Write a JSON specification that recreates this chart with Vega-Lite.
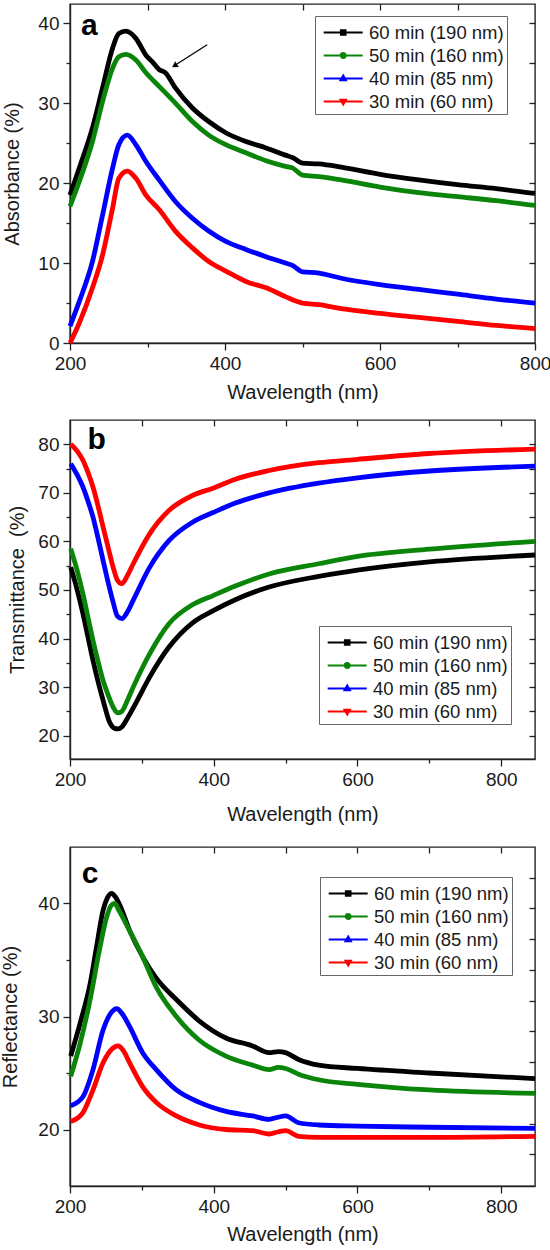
{
"$schema": "https://vega.github.io/schema/vega-lite/v6.json",
"padding": {"top": 2, "left": 0, "right": 0, "bottom": 0},
"spacing": 15,
"config": {
  "font": "Liberation Sans",
  "view": {"stroke": "#222", "strokeWidth": 1.4},
  "axis": {"grid": false, "labelFlush": false, "domainColor": "#222", "domainWidth": 1.4, "tickColor": "#222", "tickWidth": 1.3, "labelColor": "#1a1a1a", "titleColor": "#1a1a1a", "labelFont": "Liberation Sans", "titleFont": "Liberation Sans", "labelFontSize": 19, "titleFontSize": 20, "titleFontWeight": "normal", "labelPadding": 4},
  "legend": {"labelFont": "Liberation Sans", "labelFontSize": 18.5, "labelColor": "#1a1a1a", "title": null, "strokeColor": "#666", "fillColor": "white", "padding": 3, "columnPadding": 0, "symbolSize": 576, "symbolStrokeWidth": 2.2, "symbolOpacity": 1, "rowPadding": 0, "labelOffset": 24}
},
"datasets": {
  "a": [
    {"s":"60 min (190 nm)","w":200,"v":18.5},{"s":"60 min (190 nm)","w":212,"v":21.9},{"s":"60 min (190 nm)","w":229,"v":26.9},{"s":"60 min (190 nm)","w":242,"v":31.9},{"s":"60 min (190 nm)","w":255,"v":36.9},{"s":"60 min (190 nm)","w":263,"v":38.7},{"s":"60 min (190 nm)","w":272,"v":39.0},{"s":"60 min (190 nm)","w":285,"v":38.1},{"s":"60 min (190 nm)","w":298,"v":36.0},{"s":"60 min (190 nm)","w":306,"v":35.2},{"s":"60 min (190 nm)","w":315,"v":34.2},{"s":"60 min (190 nm)","w":323,"v":33.8},{"s":"60 min (190 nm)","w":336,"v":31.9},{"s":"60 min (190 nm)","w":358,"v":29.4},{"s":"60 min (190 nm)","w":379,"v":27.7},{"s":"60 min (190 nm)","w":401,"v":26.3},{"s":"60 min (190 nm)","w":427,"v":25.2},{"s":"60 min (190 nm)","w":453,"v":24.4},{"s":"60 min (190 nm)","w":478,"v":23.5},{"s":"60 min (190 nm)","w":487,"v":23.2},{"s":"60 min (190 nm)","w":500,"v":22.5},{"s":"60 min (190 nm)","w":521,"v":22.4},{"s":"60 min (190 nm)","w":550,"v":22.0},{"s":"60 min (190 nm)","w":600,"v":21.1},{"s":"60 min (190 nm)","w":650,"v":20.4},{"s":"60 min (190 nm)","w":700,"v":19.8},{"s":"60 min (190 nm)","w":750,"v":19.3},{"s":"60 min (190 nm)","w":800,"v":18.7},
    {"s":"50 min (160 nm)","w":200,"v":17.1},{"s":"50 min (160 nm)","w":212,"v":20.2},{"s":"50 min (160 nm)","w":229,"v":25.2},{"s":"50 min (160 nm)","w":242,"v":30.2},{"s":"50 min (160 nm)","w":255,"v":34.4},{"s":"50 min (160 nm)","w":263,"v":35.8},{"s":"50 min (160 nm)","w":272,"v":36.1},{"s":"50 min (160 nm)","w":285,"v":35.4},{"s":"50 min (160 nm)","w":298,"v":33.8},{"s":"50 min (160 nm)","w":315,"v":32.1},{"s":"50 min (160 nm)","w":336,"v":30.0},{"s":"50 min (160 nm)","w":358,"v":27.7},{"s":"50 min (160 nm)","w":379,"v":26.0},{"s":"50 min (160 nm)","w":401,"v":24.8},{"s":"50 min (160 nm)","w":427,"v":23.8},{"s":"50 min (160 nm)","w":453,"v":22.8},{"s":"50 min (160 nm)","w":478,"v":22.1},{"s":"50 min (160 nm)","w":487,"v":21.9},{"s":"50 min (160 nm)","w":500,"v":21.0},{"s":"50 min (160 nm)","w":521,"v":20.8},{"s":"50 min (160 nm)","w":550,"v":20.4},{"s":"50 min (160 nm)","w":600,"v":19.5},{"s":"50 min (160 nm)","w":650,"v":18.8},{"s":"50 min (160 nm)","w":700,"v":18.3},{"s":"50 min (160 nm)","w":750,"v":17.8},{"s":"50 min (160 nm)","w":800,"v":17.2},
    {"s":"40 min (85 nm)","w":200,"v":2.1},{"s":"40 min (85 nm)","w":212,"v":5.2},{"s":"40 min (85 nm)","w":229,"v":10.2},{"s":"40 min (85 nm)","w":242,"v":16.0},{"s":"40 min (85 nm)","w":255,"v":21.9},{"s":"40 min (85 nm)","w":263,"v":24.8},{"s":"40 min (85 nm)","w":274,"v":26.0},{"s":"40 min (85 nm)","w":285,"v":24.8},{"s":"40 min (85 nm)","w":298,"v":22.7},{"s":"40 min (85 nm)","w":315,"v":20.4},{"s":"40 min (85 nm)","w":336,"v":17.7},{"s":"40 min (85 nm)","w":358,"v":15.6},{"s":"40 min (85 nm)","w":379,"v":14.0},{"s":"40 min (85 nm)","w":401,"v":12.7},{"s":"40 min (85 nm)","w":427,"v":11.7},{"s":"40 min (85 nm)","w":453,"v":10.8},{"s":"40 min (85 nm)","w":478,"v":10.0},{"s":"40 min (85 nm)","w":487,"v":9.7},{"s":"40 min (85 nm)","w":500,"v":8.9},{"s":"40 min (85 nm)","w":521,"v":8.75},{"s":"40 min (85 nm)","w":550,"v":8.1},{"s":"40 min (85 nm)","w":600,"v":7.3},{"s":"40 min (85 nm)","w":650,"v":6.7},{"s":"40 min (85 nm)","w":700,"v":6.1},{"s":"40 min (85 nm)","w":750,"v":5.5},{"s":"40 min (85 nm)","w":800,"v":5.0},
    {"s":"30 min (60 nm)","w":200,"v":0.0},{"s":"30 min (60 nm)","w":212,"v":2.5},{"s":"30 min (60 nm)","w":229,"v":6.9},{"s":"30 min (60 nm)","w":242,"v":11.0},{"s":"30 min (60 nm)","w":255,"v":16.9},{"s":"30 min (60 nm)","w":263,"v":20.6},{"s":"30 min (60 nm)","w":274,"v":21.5},{"s":"30 min (60 nm)","w":285,"v":20.6},{"s":"30 min (60 nm)","w":298,"v":18.5},{"s":"30 min (60 nm)","w":315,"v":16.7},{"s":"30 min (60 nm)","w":336,"v":14.0},{"s":"30 min (60 nm)","w":358,"v":11.9},{"s":"30 min (60 nm)","w":379,"v":10.2},{"s":"30 min (60 nm)","w":401,"v":9.0},{"s":"30 min (60 nm)","w":427,"v":7.7},{"s":"30 min (60 nm)","w":453,"v":6.9},{"s":"30 min (60 nm)","w":478,"v":5.8},{"s":"30 min (60 nm)","w":500,"v":5.0},{"s":"30 min (60 nm)","w":521,"v":4.8},{"s":"30 min (60 nm)","w":550,"v":4.3},{"s":"30 min (60 nm)","w":600,"v":3.7},{"s":"30 min (60 nm)","w":650,"v":3.2},{"s":"30 min (60 nm)","w":700,"v":2.7},{"s":"30 min (60 nm)","w":750,"v":2.2},{"s":"30 min (60 nm)","w":800,"v":1.8}
  ],
  "b": [
    {"s":"60 min (190 nm)","w":201,"v":54.7},{"s":"60 min (190 nm)","w":210,"v":50.0},{"s":"60 min (190 nm)","w":218,"v":45.1},{"s":"60 min (190 nm)","w":225,"v":40.3},{"s":"60 min (190 nm)","w":232,"v":35.5},{"s":"60 min (190 nm)","w":239,"v":31.2},{"s":"60 min (190 nm)","w":246,"v":27.3},{"s":"60 min (190 nm)","w":255,"v":22.8},{"s":"60 min (190 nm)","w":262,"v":21.5},{"s":"60 min (190 nm)","w":267,"v":21.4},{"s":"60 min (190 nm)","w":272,"v":21.8},{"s":"60 min (190 nm)","w":280,"v":23.6},{"s":"60 min (190 nm)","w":292,"v":26.8},{"s":"60 min (190 nm)","w":311,"v":32.1},{"s":"60 min (190 nm)","w":338,"v":38.3},{"s":"60 min (190 nm)","w":371,"v":43.3},{"s":"60 min (190 nm)","w":400,"v":45.8},{"s":"60 min (190 nm)","w":430,"v":48.0},{"s":"60 min (190 nm)","w":477,"v":50.6},{"s":"60 min (190 nm)","w":546,"v":52.8},{"s":"60 min (190 nm)","w":600,"v":54.1},{"s":"60 min (190 nm)","w":700,"v":55.8},{"s":"60 min (190 nm)","w":847,"v":57.2},
    {"s":"50 min (160 nm)","w":201,"v":58.5},{"s":"50 min (160 nm)","w":210,"v":54.0},{"s":"50 min (160 nm)","w":218,"v":49.2},{"s":"50 min (160 nm)","w":225,"v":44.4},{"s":"50 min (160 nm)","w":232,"v":39.6},{"s":"50 min (160 nm)","w":239,"v":35.3},{"s":"50 min (160 nm)","w":246,"v":31.4},{"s":"50 min (160 nm)","w":253,"v":28.4},{"s":"50 min (160 nm)","w":260,"v":25.9},{"s":"50 min (160 nm)","w":266,"v":24.7},{"s":"50 min (160 nm)","w":272,"v":25.0},{"s":"50 min (160 nm)","w":280,"v":27.3},{"s":"50 min (160 nm)","w":288,"v":30.0},{"s":"50 min (160 nm)","w":311,"v":36.9},{"s":"50 min (160 nm)","w":338,"v":43.1},{"s":"50 min (160 nm)","w":371,"v":47.0},{"s":"50 min (160 nm)","w":400,"v":48.9},{"s":"50 min (160 nm)","w":430,"v":50.8},{"s":"50 min (160 nm)","w":477,"v":53.3},{"s":"50 min (160 nm)","w":546,"v":55.4},{"s":"50 min (160 nm)","w":600,"v":56.9},{"s":"50 min (160 nm)","w":700,"v":58.4},{"s":"50 min (160 nm)","w":847,"v":60.0},
    {"s":"40 min (85 nm)","w":201,"v":76.0},{"s":"40 min (85 nm)","w":210,"v":73.7},{"s":"40 min (85 nm)","w":218,"v":71.2},{"s":"40 min (85 nm)","w":225,"v":68.3},{"s":"40 min (85 nm)","w":232,"v":65.0},{"s":"40 min (85 nm)","w":239,"v":60.7},{"s":"40 min (85 nm)","w":246,"v":56.1},{"s":"40 min (85 nm)","w":253,"v":51.6},{"s":"40 min (85 nm)","w":260,"v":47.5},{"s":"40 min (85 nm)","w":266,"v":44.6},{"s":"40 min (85 nm)","w":272,"v":44.1},{"s":"40 min (85 nm)","w":280,"v":45.5},{"s":"40 min (85 nm)","w":288,"v":47.9},{"s":"40 min (85 nm)","w":311,"v":54.7},{"s":"40 min (85 nm)","w":338,"v":60.2},{"s":"40 min (85 nm)","w":371,"v":64.0},{"s":"40 min (85 nm)","w":400,"v":66.0},{"s":"40 min (85 nm)","w":430,"v":67.9},{"s":"40 min (85 nm)","w":477,"v":70.0},{"s":"40 min (85 nm)","w":546,"v":72.0},{"s":"40 min (85 nm)","w":600,"v":73.1},{"s":"40 min (85 nm)","w":700,"v":74.5},{"s":"40 min (85 nm)","w":847,"v":75.5},
    {"s":"30 min (60 nm)","w":201,"v":80.0},{"s":"30 min (60 nm)","w":210,"v":78.6},{"s":"30 min (60 nm)","w":218,"v":76.7},{"s":"30 min (60 nm)","w":225,"v":74.2},{"s":"30 min (60 nm)","w":232,"v":71.2},{"s":"30 min (60 nm)","w":239,"v":67.3},{"s":"30 min (60 nm)","w":246,"v":63.0},{"s":"30 min (60 nm)","w":253,"v":58.8},{"s":"30 min (60 nm)","w":260,"v":54.7},{"s":"30 min (60 nm)","w":266,"v":52.0},{"s":"30 min (60 nm)","w":272,"v":51.3},{"s":"30 min (60 nm)","w":280,"v":53.0},{"s":"30 min (60 nm)","w":288,"v":55.4},{"s":"30 min (60 nm)","w":311,"v":61.6},{"s":"30 min (60 nm)","w":338,"v":66.4},{"s":"30 min (60 nm)","w":371,"v":69.5},{"s":"30 min (60 nm)","w":400,"v":71.0},{"s":"30 min (60 nm)","w":430,"v":72.8},{"s":"30 min (60 nm)","w":477,"v":74.6},{"s":"30 min (60 nm)","w":546,"v":76.2},{"s":"30 min (60 nm)","w":600,"v":76.9},{"s":"30 min (60 nm)","w":700,"v":78.1},{"s":"30 min (60 nm)","w":847,"v":79.0}
  ],
  "c": [
    {"s":"60 min (190 nm)","w":201,"v":26.5},{"s":"60 min (190 nm)","w":214,"v":29.4},{"s":"60 min (190 nm)","w":228,"v":32.9},{"s":"60 min (190 nm)","w":237,"v":36.2},{"s":"60 min (190 nm)","w":246,"v":39.4},{"s":"60 min (190 nm)","w":252,"v":40.5},{"s":"60 min (190 nm)","w":258,"v":40.9},{"s":"60 min (190 nm)","w":263,"v":40.6},{"s":"60 min (190 nm)","w":269,"v":39.9},{"s":"60 min (190 nm)","w":283,"v":37.6},{"s":"60 min (190 nm)","w":301,"v":35.3},{"s":"60 min (190 nm)","w":320,"v":33.4},{"s":"60 min (190 nm)","w":348,"v":31.5},{"s":"60 min (190 nm)","w":380,"v":29.6},{"s":"60 min (190 nm)","w":417,"v":28.1},{"s":"60 min (190 nm)","w":454,"v":27.4},{"s":"60 min (190 nm)","w":477,"v":26.8},{"s":"60 min (190 nm)","w":490,"v":26.9},{"s":"60 min (190 nm)","w":500,"v":26.8},{"s":"60 min (190 nm)","w":518,"v":26.2},{"s":"60 min (190 nm)","w":546,"v":25.7},{"s":"60 min (190 nm)","w":600,"v":25.4},{"s":"60 min (190 nm)","w":700,"v":25.0},{"s":"60 min (190 nm)","w":847,"v":24.5},
    {"s":"50 min (160 nm)","w":201,"v":24.7},{"s":"50 min (160 nm)","w":214,"v":27.6},{"s":"50 min (160 nm)","w":228,"v":31.5},{"s":"50 min (160 nm)","w":241,"v":35.9},{"s":"50 min (160 nm)","w":251,"v":38.8},{"s":"50 min (160 nm)","w":257,"v":39.8},{"s":"50 min (160 nm)","w":262,"v":40.0},{"s":"50 min (160 nm)","w":268,"v":39.4},{"s":"50 min (160 nm)","w":278,"v":38.2},{"s":"50 min (160 nm)","w":301,"v":35.3},{"s":"50 min (160 nm)","w":320,"v":32.6},{"s":"50 min (160 nm)","w":348,"v":30.0},{"s":"50 min (160 nm)","w":380,"v":27.9},{"s":"50 min (160 nm)","w":417,"v":26.5},{"s":"50 min (160 nm)","w":454,"v":25.7},{"s":"50 min (160 nm)","w":477,"v":25.3},{"s":"50 min (160 nm)","w":490,"v":25.5},{"s":"50 min (160 nm)","w":500,"v":25.4},{"s":"50 min (160 nm)","w":518,"v":24.9},{"s":"50 min (160 nm)","w":546,"v":24.4},{"s":"50 min (160 nm)","w":600,"v":24.0},{"s":"50 min (160 nm)","w":700,"v":23.5},{"s":"50 min (160 nm)","w":847,"v":23.2},
    {"s":"40 min (85 nm)","w":201,"v":22.1},{"s":"40 min (85 nm)","w":218,"v":22.9},{"s":"40 min (85 nm)","w":232,"v":25.3},{"s":"40 min (85 nm)","w":246,"v":28.8},{"s":"40 min (85 nm)","w":258,"v":30.4},{"s":"40 min (85 nm)","w":265,"v":30.7},{"s":"40 min (85 nm)","w":272,"v":30.3},{"s":"40 min (85 nm)","w":283,"v":29.1},{"s":"40 min (85 nm)","w":301,"v":26.8},{"s":"40 min (85 nm)","w":320,"v":25.3},{"s":"40 min (85 nm)","w":348,"v":23.5},{"s":"40 min (85 nm)","w":380,"v":22.4},{"s":"40 min (85 nm)","w":417,"v":21.6},{"s":"40 min (85 nm)","w":454,"v":21.2},{"s":"40 min (85 nm)","w":477,"v":20.9},{"s":"40 min (85 nm)","w":490,"v":21.1},{"s":"40 min (85 nm)","w":500,"v":21.2},{"s":"40 min (85 nm)","w":518,"v":20.6},{"s":"40 min (85 nm)","w":546,"v":20.4},{"s":"40 min (85 nm)","w":600,"v":20.3},{"s":"40 min (85 nm)","w":700,"v":20.2},{"s":"40 min (85 nm)","w":847,"v":20.1},
    {"s":"30 min (60 nm)","w":201,"v":20.7},{"s":"30 min (60 nm)","w":218,"v":21.5},{"s":"30 min (60 nm)","w":232,"v":23.5},{"s":"30 min (60 nm)","w":246,"v":25.9},{"s":"30 min (60 nm)","w":258,"v":27.1},{"s":"30 min (60 nm)","w":267,"v":27.4},{"s":"30 min (60 nm)","w":274,"v":27.0},{"s":"30 min (60 nm)","w":283,"v":25.9},{"s":"30 min (60 nm)","w":301,"v":23.8},{"s":"30 min (60 nm)","w":320,"v":22.4},{"s":"30 min (60 nm)","w":348,"v":21.2},{"s":"30 min (60 nm)","w":380,"v":20.4},{"s":"30 min (60 nm)","w":417,"v":20.0},{"s":"30 min (60 nm)","w":454,"v":19.9},{"s":"30 min (60 nm)","w":477,"v":19.6},{"s":"30 min (60 nm)","w":490,"v":19.8},{"s":"30 min (60 nm)","w":500,"v":19.9},{"s":"30 min (60 nm)","w":518,"v":19.4},{"s":"30 min (60 nm)","w":546,"v":19.3},{"s":"30 min (60 nm)","w":600,"v":19.3},{"s":"30 min (60 nm)","w":700,"v":19.3},{"s":"30 min (60 nm)","w":847,"v":19.4}
  ]
},
"resolve": {"legend": {"color": "independent", "shape": "independent"}},
"vconcat": [
  {
    "width": 465, "height": 339,
    "resolve": {"axis": {"x": "independent", "y": "independent"}},
    "layer": [
      {
        "data": {"name": "a"},
        "mark": {"type": "line", "strokeWidth": 4.8, "interpolate": "monotone"},
        "encoding": {
          "x": {"field": "w", "type": "quantitative", "scale": {"domain": [200, 800], "nice": false, "zero": false, "padding": 0},
                "axis": {"orient": "bottom", "title": "Wavelength (nm)", "values": [200,300,400,500,600,700,800], "labelExpr": "datum.value % 200 === 0 ? datum.label : ''", "tickSize": {"condition": {"test": "datum.value % 200 === 0", "value": 7}, "value": 4}, "titlePadding": 9}},
          "y": {"field": "v", "type": "quantitative", "scale": {"domain": [0, 42.4], "nice": false, "zero": false, "padding": 0},
                "axis": {"orient": "left", "title": "Absorbance (%)", "values": [0,5,10,15,20,25,30,35,40], "labelExpr": "datum.value % 10 === 0 ? datum.label : ''", "tickSize": {"condition": {"test": "datum.value % 10 === 0", "value": 7}, "value": 4}, "titlePadding": 15}},
          "color": {"field": "s", "type": "nominal",
                "scale": {"domain": ["60 min (190 nm)", "50 min (160 nm)", "40 min (85 nm)", "30 min (60 nm)"], "range": ["#000000", "#0a850a", "#0000ff", "#ff0000"]},
                "legend": {"orient": "none", "legendX": 245, "legendY": 12}}
        }
      },
      {
        "data": {"name": "a"},
        "mark": {"type": "point", "opacity": 0, "filled": true},
        "encoding": {
          "x": {"field": "w", "type": "quantitative", "scale": {"domain": [200, 800], "nice": false, "zero": false, "padding": 0}, "axis": {"orient": "top", "title": null, "labels": false, "domain": false, "values": [300,400,500,600,700], "tickSize": -6}},
          "y": {"field": "v", "type": "quantitative", "scale": {"domain": [0, 42.4], "nice": false, "zero": false, "padding": 0}, "axis": {"orient": "right", "title": null, "labels": false, "domain": false, "values": [5,10,15,20,25,30,35,40], "tickSize": -6}},
          "color": {"field": "s", "type": "nominal",
                "scale": {"domain": ["60 min (190 nm)", "50 min (160 nm)", "40 min (85 nm)", "30 min (60 nm)"], "range": ["#000000", "#0a850a", "#0000ff", "#ff0000"]},
                "legend": {"orient": "none", "legendX": 245, "legendY": 12}},
          "shape": {"field": "s", "type": "nominal",
                "scale": {"domain": ["60 min (190 nm)", "50 min (160 nm)", "40 min (85 nm)", "30 min (60 nm)"], "range": ["M-0.65,0H2.6M0.79,-0.185H1.16V0.185H0.79Z", "M-0.65,0H2.6M0.78,0A0.195,0.195 0 1,0 1.17,0A0.195,0.195 0 1,0 0.78,0Z", "M-0.65,0H2.6M0.76,0.14L0.975,-0.24L1.19,0.14Z", "M-0.65,0H2.6M0.76,-0.14L0.975,0.24L1.19,-0.14Z"]},
                "legend": {"orient": "none", "legendX": 245, "legendY": 12}}
        }
      },
      {
        "data": {"values": [{"w": 225, "v": 39.6, "t": "a"}]},
        "mark": {"type": "text", "fontSize": 30, "fontWeight": "bold", "font": "Liberation Sans", "color": "#000", "baseline": "middle", "align": "center"},
        "encoding": {
          "x": {"field": "w", "type": "quantitative", "scale": {"domain": [200, 800], "nice": false, "zero": false, "padding": 0}, "axis": null},
          "y": {"field": "v", "type": "quantitative", "scale": {"domain": [0, 42.4], "nice": false, "zero": false, "padding": 0}, "axis": null},
          "text": {"field": "t"}
        }
      },
      {
        "data": {"values": [{"w": 377, "v": 37.3, "w2": 338, "v2": 34.9}]},
        "mark": {"type": "rule", "color": "#000", "strokeWidth": 1.3},
        "encoding": {
          "x": {"field": "w", "type": "quantitative", "scale": {"domain": [200, 800], "nice": false, "zero": false, "padding": 0}, "axis": null},
          "y": {"field": "v", "type": "quantitative", "scale": {"domain": [0, 42.4], "nice": false, "zero": false, "padding": 0}, "axis": null},
          "x2": {"field": "w2"},
          "y2": {"field": "v2"}
        }
      },
      {
        "data": {"values": [{"w": 336, "v": 34.75}]},
        "mark": {"type": "point", "shape": "triangle", "filled": true, "color": "#000", "opacity": 1, "size": 45, "angle": 237},
        "encoding": {
          "x": {"field": "w", "type": "quantitative", "scale": {"domain": [200, 800], "nice": false, "zero": false, "padding": 0}, "axis": null},
          "y": {"field": "v", "type": "quantitative", "scale": {"domain": [0, 42.4], "nice": false, "zero": false, "padding": 0}, "axis": null}
        }
      }
    ]
  },
  {
    "width": 465, "height": 339,
    "resolve": {"axis": {"x": "independent", "y": "independent"}},
    "layer": [
      {
        "data": {"name": "b"},
        "mark": {"type": "line", "strokeWidth": 4.8, "interpolate": "monotone"},
        "encoding": {
          "x": {"field": "w", "type": "quantitative", "scale": {"domain": [200, 847], "nice": false, "zero": false, "padding": 0},
                "axis": {"orient": "bottom", "title": "Wavelength (nm)", "values": [200,300,400,500,600,700,800], "labelExpr": "datum.value % 200 === 0 ? datum.label : ''", "tickSize": {"condition": {"test": "datum.value % 200 === 0", "value": 7}, "value": 4}, "titlePadding": 15}},
          "y": {"field": "v", "type": "quantitative", "scale": {"domain": [15.2, 85], "nice": false, "zero": false, "padding": 0},
                "axis": {"orient": "left", "title": "Transmittance\u00a0 (%)", "values": [20,25,30,35,40,45,50,55,60,65,70,75,80], "labelExpr": "datum.value % 10 === 0 ? datum.label : ''", "tickSize": {"condition": {"test": "datum.value % 10 === 0", "value": 7}, "value": 4}, "titlePadding": 10}},
          "color": {"field": "s", "type": "nominal",
                "scale": {"domain": ["60 min (190 nm)", "50 min (160 nm)", "40 min (85 nm)", "30 min (60 nm)"], "range": ["#000000", "#0a850a", "#0000ff", "#ff0000"]},
                "legend": {"orient": "none", "legendX": 249, "legendY": 206}}
        }
      },
      {
        "data": {"name": "b"},
        "mark": {"type": "point", "opacity": 0, "filled": true},
        "encoding": {
          "x": {"field": "w", "type": "quantitative", "scale": {"domain": [200, 847], "nice": false, "zero": false, "padding": 0}, "axis": {"orient": "top", "title": null, "labels": false, "domain": false, "values": [300,400,500,600,700,800], "tickSize": -6}},
          "y": {"field": "v", "type": "quantitative", "scale": {"domain": [15.2, 85], "nice": false, "zero": false, "padding": 0}, "axis": {"orient": "right", "title": null, "labels": false, "domain": false, "values": [20,25,30,35,40,45,50,55,60,65,70,75,80], "tickSize": -6}},
          "color": {"field": "s", "type": "nominal",
                "scale": {"domain": ["60 min (190 nm)", "50 min (160 nm)", "40 min (85 nm)", "30 min (60 nm)"], "range": ["#000000", "#0a850a", "#0000ff", "#ff0000"]},
                "legend": {"orient": "none", "legendX": 249, "legendY": 206}},
          "shape": {"field": "s", "type": "nominal",
                "scale": {"domain": ["60 min (190 nm)", "50 min (160 nm)", "40 min (85 nm)", "30 min (60 nm)"], "range": ["M-0.65,0H2.6M0.79,-0.185H1.16V0.185H0.79Z", "M-0.65,0H2.6M0.78,0A0.195,0.195 0 1,0 1.17,0A0.195,0.195 0 1,0 0.78,0Z", "M-0.65,0H2.6M0.76,0.14L0.975,-0.24L1.19,0.14Z", "M-0.65,0H2.6M0.76,-0.14L0.975,0.24L1.19,-0.14Z"]},
                "legend": {"orient": "none", "legendX": 249, "legendY": 206}}
        }
      },
      {
        "data": {"values": [{"w": 237, "v": 80.9, "t": "b"}]},
        "mark": {"type": "text", "fontSize": 30, "fontWeight": "bold", "font": "Liberation Sans", "color": "#000", "baseline": "middle", "align": "center"},
        "encoding": {
          "x": {"field": "w", "type": "quantitative", "scale": {"domain": [200, 847], "nice": false, "zero": false, "padding": 0}, "axis": null},
          "y": {"field": "v", "type": "quantitative", "scale": {"domain": [15.2, 85], "nice": false, "zero": false, "padding": 0}, "axis": null},
          "text": {"field": "t"}
        }
      }
    ]
  },
  {
    "width": 465, "height": 339,
    "resolve": {"axis": {"x": "independent", "y": "independent"}},
    "layer": [
      {
        "data": {"name": "c"},
        "mark": {"type": "line", "strokeWidth": 4.8, "interpolate": "monotone"},
        "encoding": {
          "x": {"field": "w", "type": "quantitative", "scale": {"domain": [200, 847], "nice": false, "zero": false, "padding": 0},
                "axis": {"orient": "bottom", "title": "Wavelength (nm)", "values": [200,300,400,500,600,700,800], "labelExpr": "datum.value % 200 === 0 ? datum.label : ''", "tickSize": {"condition": {"test": "datum.value % 200 === 0", "value": 7}, "value": 4}, "titlePadding": 8}},
          "y": {"field": "v", "type": "quantitative", "scale": {"domain": [15, 45], "nice": false, "zero": false, "padding": 0},
                "axis": {"orient": "left", "title": "Reflectance (%)", "values": [20,25,30,35,40], "labelExpr": "datum.value % 10 === 0 ? datum.label : ''", "tickSize": {"condition": {"test": "datum.value % 10 === 0", "value": 7}, "value": 4}, "titlePadding": 17}},
          "color": {"field": "s", "type": "nominal",
                "scale": {"domain": ["60 min (190 nm)", "50 min (160 nm)", "40 min (85 nm)", "30 min (60 nm)"], "range": ["#000000", "#0a850a", "#0000ff", "#ff0000"]},
                "legend": {"orient": "none", "legendX": 250, "legendY": 30}}
        }
      },
      {
        "data": {"name": "c"},
        "mark": {"type": "point", "opacity": 0, "filled": true},
        "encoding": {
          "x": {"field": "w", "type": "quantitative", "scale": {"domain": [200, 847], "nice": false, "zero": false, "padding": 0}, "axis": {"orient": "top", "title": "\u00a0", "titleFontSize": 4, "titlePadding": 1, "labels": false, "domain": false, "values": [300,400,500,600,700,800], "tickSize": -6}},
          "y": {"field": "v", "type": "quantitative", "scale": {"domain": [15, 45], "nice": false, "zero": false, "padding": 0}, "axis": {"orient": "right", "title": null, "labels": false, "domain": false, "values": [17.8,20.5,23.3,26.0,28.7,31.4,34.1,36.9,39.6,42.3], "tickSize": -6}},
          "color": {"field": "s", "type": "nominal",
                "scale": {"domain": ["60 min (190 nm)", "50 min (160 nm)", "40 min (85 nm)", "30 min (60 nm)"], "range": ["#000000", "#0a850a", "#0000ff", "#ff0000"]},
                "legend": {"orient": "none", "legendX": 250, "legendY": 30}},
          "shape": {"field": "s", "type": "nominal",
                "scale": {"domain": ["60 min (190 nm)", "50 min (160 nm)", "40 min (85 nm)", "30 min (60 nm)"], "range": ["M-0.65,0H2.6M0.79,-0.185H1.16V0.185H0.79Z", "M-0.65,0H2.6M0.78,0A0.195,0.195 0 1,0 1.17,0A0.195,0.195 0 1,0 0.78,0Z", "M-0.65,0H2.6M0.76,0.14L0.975,-0.24L1.19,0.14Z", "M-0.65,0H2.6M0.76,-0.14L0.975,0.24L1.19,-0.14Z"]},
                "legend": {"orient": "none", "legendX": 250, "legendY": 30}}
        }
      },
      {
        "data": {"values": [{"w": 228, "v": 42.6, "t": "c"}]},
        "mark": {"type": "text", "fontSize": 30, "fontWeight": "bold", "font": "Liberation Sans", "color": "#000", "baseline": "middle", "align": "center"},
        "encoding": {
          "x": {"field": "w", "type": "quantitative", "scale": {"domain": [200, 847], "nice": false, "zero": false, "padding": 0}, "axis": null},
          "y": {"field": "v", "type": "quantitative", "scale": {"domain": [15, 45], "nice": false, "zero": false, "padding": 0}, "axis": null},
          "text": {"field": "t"}
        }
      }
    ]
  }
]
}
